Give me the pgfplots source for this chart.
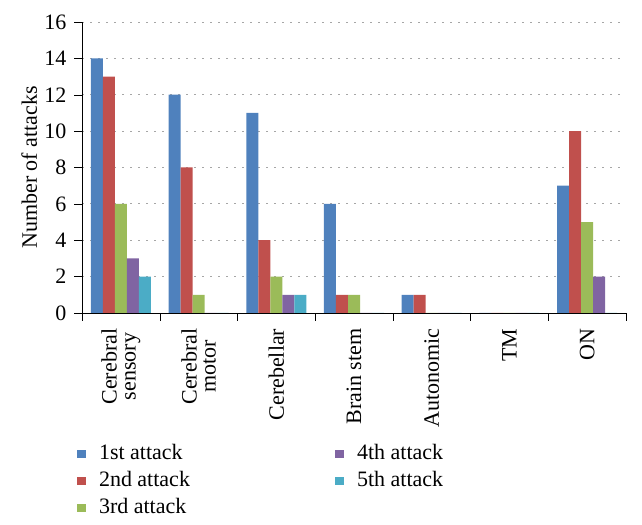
\documentclass[border=0pt]{standalone}
\usepackage{fontspec}
\setmainfont{Liberation Serif}
\usepackage{pgfplots}
\pgfplotsset{compat=1.18}
\definecolor{c1}{HTML}{4F81BD}
\definecolor{c2}{HTML}{C0504D}
\definecolor{c3}{HTML}{9BBB59}
\definecolor{c4}{HTML}{8064A2}
\definecolor{c5}{HTML}{4BACC6}
\begin{document}
\fontsize{11}{13}\selectfont
\begin{tikzpicture}
\begin{axis}[
  scale only axis,
  width=272pt, height=145.5pt,
  ybar=0pt, bar width=6pt,
  xmin=-0.5, xmax=6.5,
  ymin=0, ymax=16,
  ytick={0,2,...,16},
  xtick={0,...,6},
  xticklabels={{Cerebral\\sensory},{Cerebral\\motor},Cerebellar,Brain stem,Autonomic,TM,ON},
  xticklabel style={rotate=90, anchor=east, align=center, font=\fontsize{11}{9.5}\selectfont},
  major x tick style={draw=none},
  minor xtick={-0.5,0.5,...,6.5},
  minor x tick style={black},
  minor tick length=4pt,
  axis x line*=bottom, axis y line*=left,
  axis line style={-},
  tick align=outside,
  major tick length=4pt,
  ytick style={black},
  ymajorgrids,
  major grid style={gray!70, dash pattern=on 0.8pt off 3.2pt},
  /pgf/number format/assume math mode=true,
  ylabel={Number of attacks},
  ylabel style={yshift=-4pt},
  transpose legend,
  legend columns=3,
  legend cell align=left,
  legend style={draw=none, at={(rel axis cs:0,0)}, anchor=north west, xshift=-5.7pt, yshift=-61.5pt,
    row sep=0.2pt,
    /tikz/column 2/.style={column sep=70.5pt}},
  legend image code/.code={\fill[#1] (0pt,-2pt) rectangle (4.4pt,2pt); \path (9pt,0pt);},
  every axis plot/.append style={draw=none},
]
\addplot[fill=c1] coordinates {(0,14) (1,12) (2,11) (3,6) (4,1) (5,0) (6,7)};
\addplot[fill=c2] coordinates {(0,13) (1,8) (2,4) (3,1) (4,1) (5,0) (6,10)};
\addplot[fill=c3] coordinates {(0,6) (1,1) (2,2) (3,1) (4,0) (5,0) (6,5)};
\addplot[fill=c4] coordinates {(0,3) (1,0) (2,1) (3,0) (4,0) (5,0) (6,2)};
\addplot[fill=c5] coordinates {(0,2) (1,0) (2,1) (3,0) (4,0) (5,0) (6,0)};
\legend{1st attack,2nd attack,3rd attack,4th attack,5th attack}
\end{axis}
\path (current axis.east) ++(8pt,0pt);
\path (current axis.north) ++(0pt,11pt);
\path (current axis.west) ++(-41pt,0pt);
\end{tikzpicture}
\end{document}
